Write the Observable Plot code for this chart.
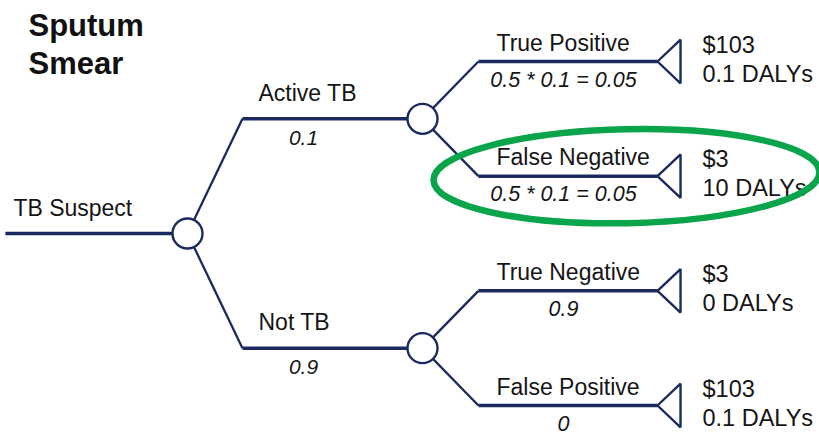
<!DOCTYPE html>
<html>
<head>
<meta charset="utf-8">
<script src="https://cdn.jsdelivr.net/npm/d3@7"></script>
<script src="https://cdn.jsdelivr.net/npm/@observablehq/plot@0.6"></script>
<style>
  html, body { margin: 0; padding: 0; background: #fff; }
  svg { display: block; }
</style>
</head>
<body>
<div id="chart"></div>
<script>
// ---- data ----
const title = "Sputum\nSmear";
const rootLabel = "TB Suspect";
const conditions = ["Active TB", "Not TB"];
const conditionProbs = ["0.1", "0.9"];
const outcomes = ["True Positive", "False Negative", "True Negative", "False Positive"];
const outcomeParent = [0, 0, 1, 1];
const outcomeProbs = ["0.5 * 0.1 = 0.05", "0.5 * 0.1 = 0.05", "0.9", "0"];
const costs = ["$103", "$3", "$3", "$103"];
const dalys = ["0.1 DALYs", "10 DALYs", "0 DALYs", "0.1 DALYs"];
const highlighted = "False Negative";

// ---- layout (tree depth on x, leaf row on y) ----
const ELBOW1 = 0.234, ELBOW2 = 1.238, ROOT_START = -0.775, TRI_W = 0.098, TRI_H = 0.19;
const leaves = outcomes.map((name, i) => ({
  name, row: i, parent: outcomeParent[i], prob: outcomeProbs[i], cost: costs[i], daly: dalys[i]
}));
const conds = conditions.map((name, j) => {
  const kids = leaves.filter(l => l.parent === j);
  return { name, prob: conditionProbs[j], row: d3.mean(kids, k => k.row) };
});
const rootRow = d3.mean(conds, c => c.row);
leaves.forEach(l => l.prow = conds[l.parent].row);

const NAVY = "#1b2a5e";
const TEXT = "#151515";
const FONT = "'Liberation Sans', Arial, Helvetica, sans-serif";

const horiz = [
  { x1: ROOT_START, y1: rootRow, x2: 0, y2: rootRow },
  ...conds.map(c => ({ x1: ELBOW1, y1: c.row, x2: 1, y2: c.row })),
  ...leaves.map(l => ({ x1: ELBOW2, y1: l.row, x2: 2, y2: l.row }))
];
const diag = [
  ...conds.map(c => ({ x1: 0, y1: rootRow, x2: ELBOW1, y2: c.row })),
  ...leaves.map(l => ({ x1: 1, y1: l.prow, x2: ELBOW2, y2: l.row }))
];
const tri = leaves.flatMap(l => [
  { id: l.name, x: 2, y: l.row },
  { id: l.name, x: 2 + TRI_W, y: l.row - TRI_H },
  { id: l.name, x: 2 + TRI_W, y: l.row + TRI_H },
  { id: l.name, x: 2, y: l.row }
]);
const chanceNodes = [{ x: 0, y: rootRow }, ...conds.map(c => ({ x: 1, y: c.row }))];

// ellipse symbol for highlight
function ellipseSymbol(rx, ry, deg) {
  const a = deg * Math.PI / 180, ca = Math.cos(a), sa = Math.sin(a), k = 0.5523;
  const P = (x, y) => [x * ca - y * sa, x * sa + y * ca];
  return {
    draw(ctx) {
      const pts = [
        [P(rx, 0)],
        [P(rx, k * ry), P(k * rx, ry), P(0, ry)],
        [P(-k * rx, ry), P(-rx, k * ry), P(-rx, 0)],
        [P(-rx, -k * ry), P(-k * rx, -ry), P(0, -ry)],
        [P(k * rx, -ry), P(rx, -k * ry), P(rx, 0)]
      ];
      ctx.moveTo(...pts[0][0]);
      for (let i = 1; i < pts.length; i++) ctx.bezierCurveTo(...pts[i][0], ...pts[i][1], ...pts[i][2]);
      ctx.closePath();
    }
  };
}

const plot = Plot.plot({
  width: 819,
  height: 435,
  margin: 0,
  x: { domain: [0, 2], range: [187, 657], axis: null },
  y: { domain: [0, 3], range: [61, 405], axis: null },
  style: { fontFamily: FONT, background: "#fff" },
  marks: [
    Plot.link(diag, { x1: "x1", y1: "y1", x2: "x2", y2: "y2", stroke: NAVY, strokeWidth: 2.3 }),
    Plot.link(horiz, { x1: "x1", y1: "y1", x2: "x2", y2: "y2", stroke: NAVY, strokeWidth: 3.5 }),
    Plot.line(tri, { x: "x", y: "y", z: "id", stroke: NAVY, strokeWidth: 2.4, strokeLinejoin: "miter", curve: "linear" }),
    Plot.dot(chanceNodes, { x: "x", y: "y", r: 15, fill: "#fff", stroke: NAVY, strokeWidth: 2.4 }),
    // title
    Plot.text([title], { frameAnchor: "top-left", text: d => d, dx: 28, dy: 8, lineAnchor: "top", textAnchor: "start",
      fontSize: 31, fontWeight: "bold", lineHeight: 1.23, fill: "#111" }),
    // root label
    Plot.text([rootLabel], { x: ROOT_START, y: rootRow, text: d => d, textAnchor: "start", lineAnchor: "bottom",
      dx: 8, dy: -18, fontSize: 23, fill: TEXT }),
    // condition labels and probabilities
    Plot.text(conds, { x: ELBOW1, y: "row", text: "name", textAnchor: "start", lineAnchor: "bottom",
      dx: 16, dy: -18, fontSize: 23, fill: TEXT }),
    Plot.text(conds, { x: ELBOW1, y: "row", text: "prob", textAnchor: "middle", lineAnchor: "bottom",
      dx: 61, dy: 26, fontSize: 21, fontStyle: "italic", fill: TEXT }),
    // outcome labels and probabilities
    Plot.text(leaves, { x: ELBOW2, y: "row", text: "name", textAnchor: "start", lineAnchor: "bottom",
      dx: 18, dy: -11, fontSize: 23, fill: TEXT }),
    Plot.text(leaves, { x: ELBOW2, y: "row", text: "prob", textAnchor: "middle", lineAnchor: "bottom",
      dx: 85, dy: 25, fontSize: 21.5, fontStyle: "italic", fill: TEXT }),
    // payoffs
    Plot.text(leaves, { x: 2, y: "row", text: "cost", textAnchor: "start", lineAnchor: "bottom",
      dx: 45, dy: -9, fontSize: 23.5, fill: TEXT }),
    Plot.text(leaves, { x: 2, y: "row", text: "daly", textAnchor: "start", lineAnchor: "bottom",
      dx: 45, dy: 20, fontSize: 23.5, fill: TEXT }),
    // highlight ellipse
    Plot.dot(leaves.filter(l => l.name === highlighted), { x: 2, y: "row", dx: -31, dy: 0,
      symbol: ellipseSymbol(193, 47, -1.2), fill: "none", stroke: "#0aa54a", strokeWidth: 6.5 })
  ]
});
document.getElementById("chart").appendChild(plot);
</script>
</body>
</html>
